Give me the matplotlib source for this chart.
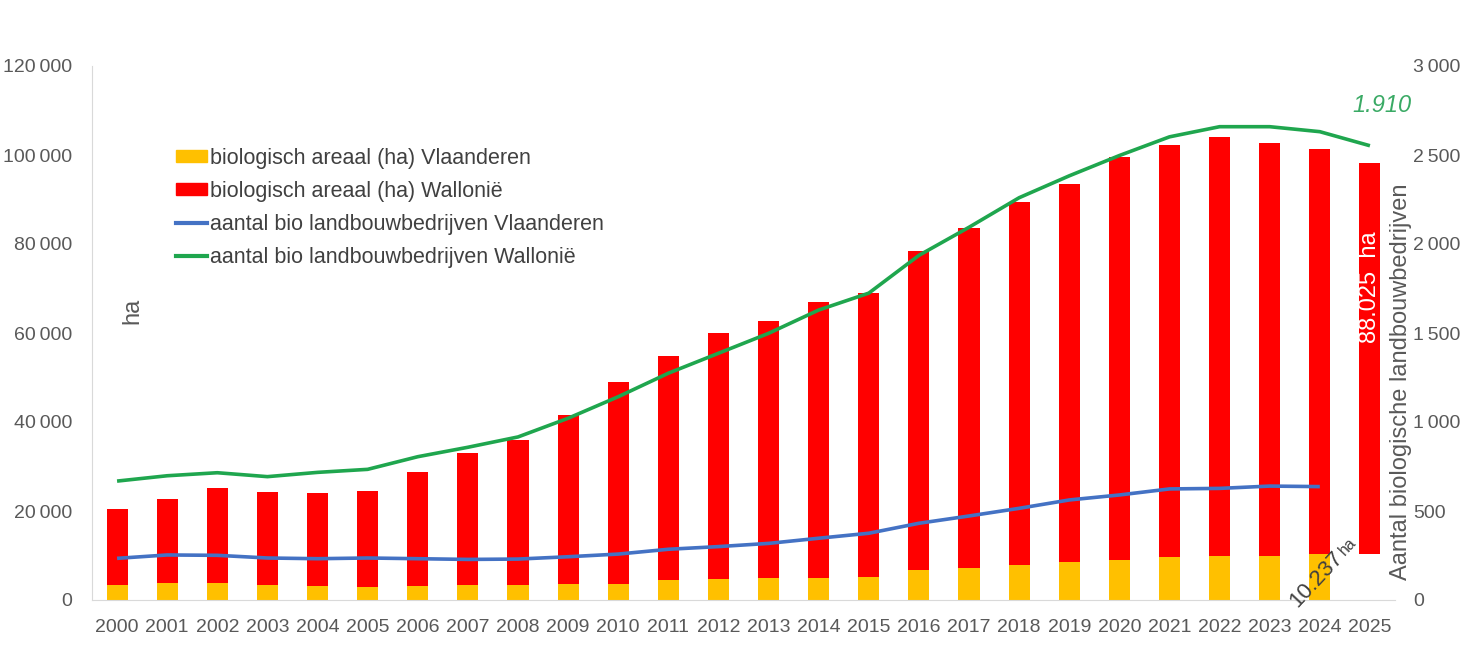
import matplotlib
matplotlib.use('Agg')
import matplotlib.pyplot as plt
from matplotlib.ticker import FuncFormatter, MultipleLocator
from matplotlib.patches import Patch
from matplotlib.lines import Line2D

plt.rcParams['font.family'] = ['Liberation Sans', 'DejaVu Sans']

# data
years = [str(y) for y in range(2000, 2026)]
areaal_vl = [3370, 3900, 3750, 3370, 3100, 3000, 3100, 3300, 3300, 3500,
             3670, 4400, 4800, 5000, 4900, 5200, 6800, 7300, 7900, 8600,
             9100, 9700, 9900, 9900, 10237, 10237]   # last one hidden in the chart
areaal_wal = [17030, 18750, 21350, 20930, 20900, 21600, 25700, 29700, 32700, 38100,
              45230, 50500, 55200, 57800, 62100, 63900, 71700, 76400, 81500, 84900,
              90400, 92500, 94100, 92900, 91060, 88025]
bedrijven_vl = [234, 253, 251, 236, 232, 236, 232, 228, 230, 243,
                258, 285, 300, 318, 347, 375, 431, 472, 515, 562,
                590, 624, 627, 640, 637]
bedrijven_wal = [668, 698, 715, 693, 717, 734, 805, 858, 916, 1021,
                 1142, 1274, 1386, 1498, 1629, 1724, 1936, 2094, 2260, 2383,
                 2497, 2602, 2659, 2659, 2631, 2552]

c_yellow = '#FFC000'
c_red = '#FF0000'
c_blue = '#4472C4'
c_green = '#1FA64E'
c_text = '#595959'

fig = plt.figure(figsize=(14.66, 6.69), dpi=100)
ax = fig.add_axes([92 / 1466, 69 / 669, (1395 - 92) / 1466, (600 - 66) / 669])
ax2 = ax.twinx()

x = list(range(len(years)))
w = 0.42
yellow_colors = [c_yellow] * (len(years) - 1) + ['none']
ax.bar(x, areaal_vl, width=w, color=yellow_colors, linewidth=0)
ax.bar(x, areaal_wal, width=w, bottom=areaal_vl, color=c_red, linewidth=0)

ax2.plot(x[:len(bedrijven_vl)], bedrijven_vl, color=c_blue, lw=2.6, solid_capstyle='butt')
ax2.plot(x[:len(bedrijven_wal)], bedrijven_wal, color=c_green, lw=2.6, solid_capstyle='butt')

ax.set_xlim(-0.5, len(years) - 0.5)
ax.set_ylim(0, 120000)
ax2.set_ylim(0, 3000)
ax.yaxis.set_major_locator(MultipleLocator(20000))
ax2.yaxis.set_major_locator(MultipleLocator(500))

fmt = FuncFormatter(lambda v, p: f'{int(v):,}'.replace(',', '\u2009'))
ax.yaxis.set_major_formatter(fmt)
ax2.yaxis.set_major_formatter(fmt)
ax.set_xticks(x)
ax.set_xticklabels(years)

for a in (ax, ax2):
    for s in a.spines.values():
        s.set_visible(False)
ax.spines['left'].set_visible(True)
ax.spines['bottom'].set_visible(True)
ax.spines['left'].set_color('#D9D9D9')
ax.spines['bottom'].set_color('#D9D9D9')

ax.tick_params(axis='y', length=0, pad=14, labelsize=14, labelcolor=c_text)
ax.tick_params(axis='x', length=0, pad=13.5, labelsize=14, labelcolor=c_text)
ax2.tick_params(axis='y', length=0, pad=13, labelsize=14, labelcolor=c_text)

# axis titles
ax.text(0.3, 65000, 'ha', rotation=90, ha='center', va='center', fontsize=17, color=c_text)
fig.text(1401 / 1466, (669 - 382) / 669, 'Aantal biologische landbouwbedrijven',
         rotation=90, ha='center', va='center', fontsize=17, color=c_text)

# annotations
ax.text(25.24, 111200, '1.910', ha='center', va='center', fontsize=17,
        style='italic', color='#3AAA65')
ax.text(25, 70200, '88.025  ha', rotation=90, ha='center', va='center',
        fontsize=17, color='white')
ax.text(23.55, -1800, '10.237', rotation=47, rotation_mode='anchor',
        ha='left', va='baseline', fontsize=16, color='#404040', clip_on=False)
ax.text(24.5, 10000, 'ha', rotation=47, rotation_mode='anchor',
        ha='left', va='baseline', fontsize=11.5, color='#404040', clip_on=False)

handles = [Patch(color=c_yellow), Patch(color=c_red),
           Line2D([], [], color=c_blue, lw=3), Line2D([], [], color=c_green, lw=3)]
labels = ['biologisch areaal (ha) Vlaanderen', 'biologisch areaal (ha) Wallonië',
          'aantal bio landbouwbedrijven Vlaanderen', 'aantal bio landbouwbedrijven Wallonië']
leg = ax2.legend(handles, labels, loc='upper left',
                 bbox_to_anchor=(176 / 1466, (669 - 148) / 669),
                 bbox_transform=fig.transFigure, frameon=False, fontsize=15.5,
                 handlelength=1.45, handleheight=0.5, handletextpad=0.15,
                 labelspacing=0.55, borderaxespad=0, borderpad=0)
for t in leg.get_texts():
    t.set_color('#404040')

fig.savefig('out.png', dpi=100)
